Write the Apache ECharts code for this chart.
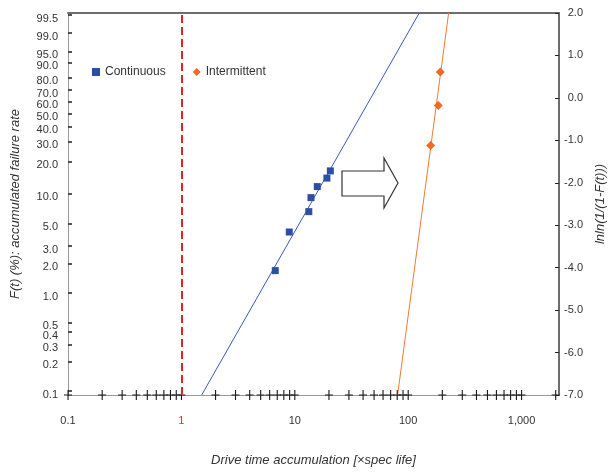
<!DOCTYPE html>
<html>
<head>
<meta charset="utf-8">
<script src="https://cdn.jsdelivr.net/npm/echarts@6/dist/echarts.min.js"></script>
<style>
  html, body { margin: 0; padding: 0; background: #fff; }
  #chart { width: 609px; height: 472px; }
</style>
</head>
<body>
<div id="chart"></div>
<script>
// drive time (x spec life) vs lnln(1/(1-F))
let continuousX = [6.73, 8.94, 13.3, 13.9, 15.8, 19.2, 20.6]
let continuousY = [-4.07, -3.16, -2.68, -2.35, -2.09, -1.89, -1.72]
let intermittentX = [157.9, 184.3, 191.9]
let intermittentY = [-1.12, -0.18, 0.61]

// fitted lines, end points
let continuousFitX = [1.51, 125.3]
let continuousFitY = [-7, 2]
let intermittentFitX = [80.7, 227.5]
let intermittentFitY = [-7, 2]

// left axis: F(t) % labels
let fLabels = ['99.5', '99.0', '95.0', '90.0', '80.0', '70.0', '60.0', '50.0', '40.0', '30.0',
    '20.0', '10.0', '5.0', '3.0', '2.0', '1.0', '0.5', '0.4', '0.3', '0.2', '0.1']
// x axis: the "+" marks sitting on the bottom edge
let xCrosses = [0.1, 0.2, 0.3, 0.4, 0.5, 0.6, 0.7, 0.8, 0.9,
    1, 2, 3, 4, 5, 6, 7, 8, 9,
    10, 20, 30, 40, 50, 60, 70, 80, 90,
    100, 200, 300, 400, 500, 600, 700, 800, 900,
    1000, 2000]
let xLabels = [0.1, 1, 10, 100, 1000]
let yMin = -7
let yMax = 2

function lnln(pct) {
    return Math.log(-Math.log(1 - pct / 100))
}

let fPos = fLabels.map(function(s) { return lnln(parseFloat(s)) })
// the top label sits at the top edge of the scale in the original
fPos[0] = 1.95

function pair(xs, ys) {
    return xs.map(function(x, i) { return [x, ys[i]] })
}

let font = 'Liberation Sans, Arial, sans-serif'
let textColor = '#333'
let plusPath = 'path://M3.5,0h1.1v10h-1.1zM0,4.5h8v1.1h-8z'

let chart = echarts.init(document.getElementById('chart'))

let option = {
    animation: false,
    textStyle: { fontFamily: font },
    grid: { left: 68, right: 50, top: 13, bottom: 77, outerBoundsMode: 'none', containLabel: false },
    legend: {
        data: ['Continuous', 'Intermittent'],
        left: 87,
        top: 61,
        itemGap: 27,
        itemWidth: 8,
        itemHeight: 8,
        textStyle: { fontSize: 12, color: textColor, fontFamily: font }
    },
    xAxis: [{
        type: 'log',
        logBase: 10,
        min: 0.1,
        max: 2140,
        position: 'bottom',
        axisLine: { onZero: false, lineStyle: { color: '#999', width: 1 } },
        axisTick: { show: false },
        axisLabel: {
            customValues: xLabels,
            margin: 20,
            fontSize: 11,
            fontFamily: font,
            color: function(v) { return v == 1 ? '#e8302a' : textColor },
            formatter: function(v) { return echarts.format.addCommas(v) }
        },
        splitLine: { show: false },
        name: 'Drive time accumulation [\u00d7spec life]',
        nameLocation: 'middle',
        nameGap: 59,
        nameTextStyle: { fontSize: 13, fontStyle: 'italic', color: textColor, fontFamily: font }
    }, {
        type: 'log',
        logBase: 10,
        min: 0.1,
        max: 2140,
        position: 'top',
        axisLine: { onZero: false, lineStyle: { color: '#6d6d6d', width: 2 } },
        axisTick: { show: false },
        axisLabel: { show: false },
        splitLine: { show: false }
    }],
    yAxis: [{
        type: 'value',
        min: yMin,
        max: yMax,
        position: 'left',
        axisLine: { show: true, onZero: false, lineStyle: { color: '#999', width: 1 } },
        axisTick: { show: true, inside: true, length: 4, customValues: fPos, lineStyle: { color: '#222', width: 1.5 } },
        axisLabel: {
            customValues: fPos,
            margin: 10,
            fontSize: 11,
            color: textColor,
            fontFamily: font,
            verticalAlign: 'top',
            lineHeight: 7,
            formatter: function(v) {
                for (let i = 0; i < fPos.length; i++) {
                    if (Math.abs(fPos[i] - v) < 1e-6) return fLabels[i]
                }
                return ''
            }
        },
        splitLine: { show: false },
        name: 'F(t) (%): accumulated failure rate',
        nameLocation: 'middle',
        nameGap: 46,
        nameTextStyle: { fontSize: 13, fontStyle: 'italic', color: textColor, fontFamily: font }
    }, {
        type: 'value',
        min: yMin,
        max: yMax,
        interval: 1,
        position: 'right',
        axisLine: { show: true, onZero: false, lineStyle: { color: '#6d6d6d', width: 2 } },
        axisTick: { show: true, inside: true, length: 4, lineStyle: { color: '#222' } },
        axisLabel: {
            margin: 24,
            align: 'right',
            fontSize: 11,
            color: textColor,
            fontFamily: font,
            formatter: function(v) { return v.toFixed(1) }
        },
        splitLine: { show: false },
        name: 'lnln(1/(1-F(t)))',
        nameLocation: 'middle',
        nameRotate: 90,
        nameGap: 32,
        nameTextStyle: { fontSize: 13, fontStyle: 'italic', color: textColor, fontFamily: font }
    }],
    graphic: [{
        type: 'polygon',
        shape: {
            points: [[342, 171], [384, 171], [384, 158], [398, 183], [384, 208], [384, 196], [342, 196]]
        },
        style: { fill: '#fff', stroke: '#333', lineWidth: 1.2 },
        z: 10
    }],
    series: [{
        type: 'line',
        data: pair(continuousFitX, continuousFitY),
        showSymbol: false,
        symbol: 'none',
        lineStyle: { color: '#3a5cb0', width: 1 },
        silent: true,
        markLine: {
            silent: true,
            symbol: 'none',
            label: { show: false },
            lineStyle: { color: '#e8202a', width: 2, type: [8, 4] },
            data: [{ xAxis: 1 }]
        }
    }, {
        type: 'line',
        data: pair(intermittentFitX, intermittentFitY),
        showSymbol: false,
        symbol: 'none',
        lineStyle: { color: '#f47a30', width: 1 },
        silent: true
    }, {
        type: 'scatter',
        data: xCrosses.map(function(x) { return [x, yMin] }),
        symbol: plusPath,
        symbolSize: [8, 10],
        itemStyle: { color: '#1a1a1a', opacity: 1 },
        clip: false,
        silent: true,
        z: 4
    }, {
        name: 'Continuous',
        type: 'scatter',
        data: pair(continuousX, continuousY),
        symbol: 'rect',
        symbolSize: 7,
        itemStyle: { color: '#2d4fa3', opacity: 1 },
        z: 5
    }, {
        name: 'Intermittent',
        type: 'scatter',
        data: pair(intermittentX, intermittentY),
        symbol: 'diamond',
        symbolSize: 9,
        itemStyle: { color: '#f26a21', opacity: 1 },
        z: 5
    }]
}

chart.setOption(option)
</script>
</body>
</html>
